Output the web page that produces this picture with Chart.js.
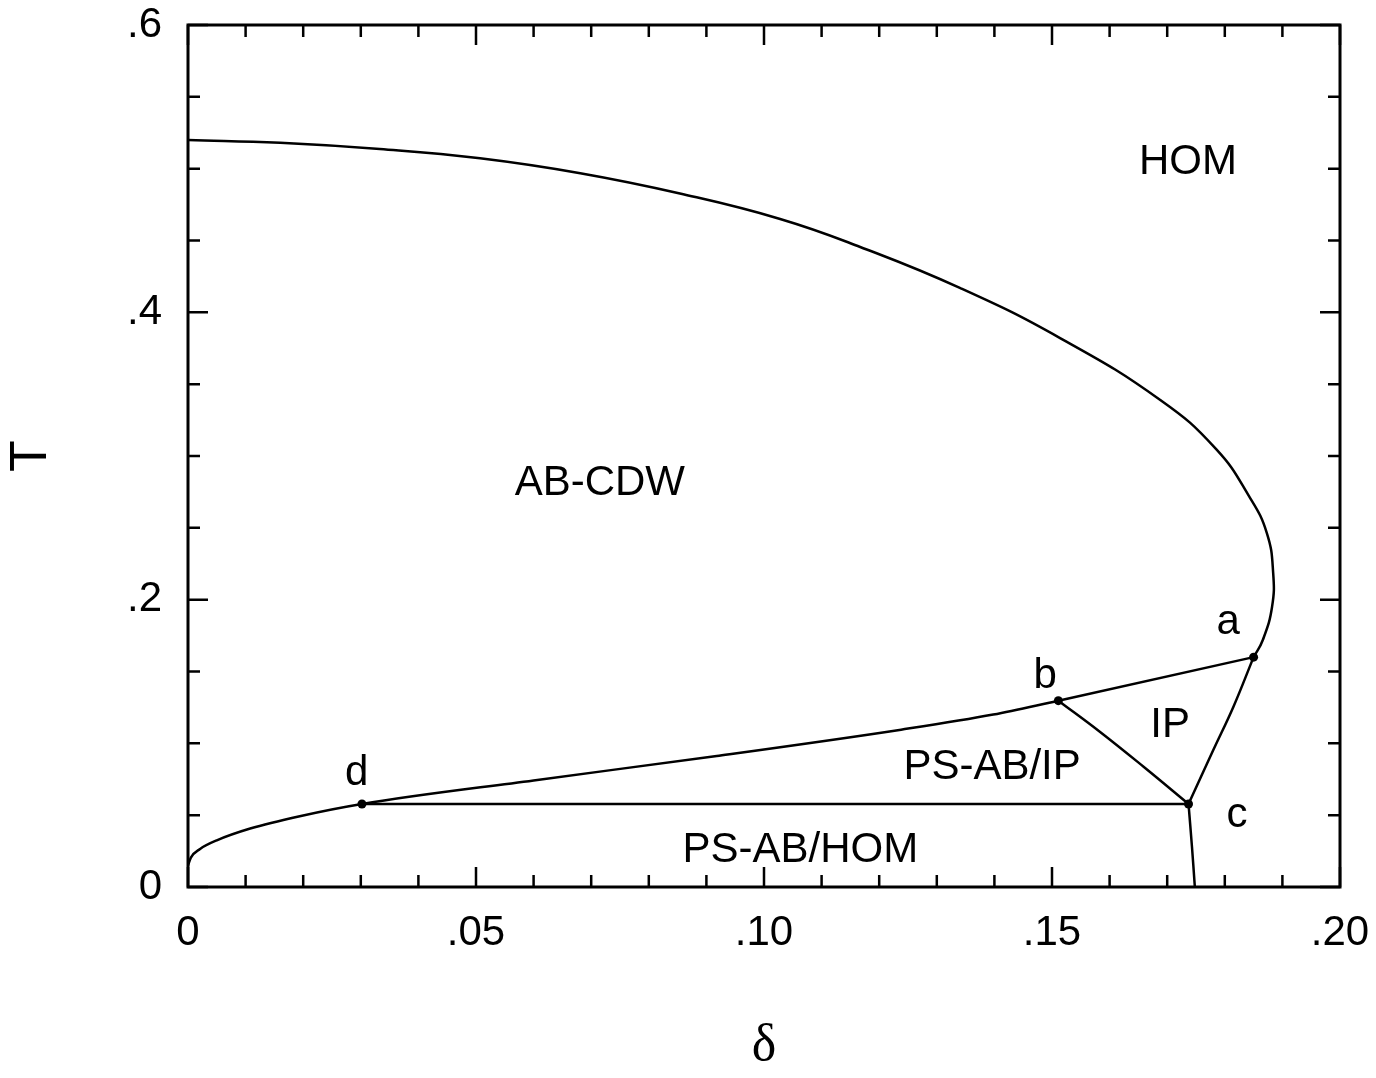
<!DOCTYPE html>
<html>
<head>
<meta charset="utf-8">
<title>Phase diagram</title>
<script src="https://cdn.jsdelivr.net/npm/chart.js@4.4.1/dist/chart.umd.min.js"></script>
<style>
  html, body { margin: 0; padding: 0; background: #fff; }
  #wrap { width: 1376px; height: 1078px; }
</style>
</head>
<body>
<div id="wrap"><canvas id="phase"></canvas></div>
<script>
// Phase boundaries, delta (doping) vs T
// upper boundary AB-CDW / HOM, from delta = 0 round the nose down to a
var outerDelta = [0, 0.0160, 0.0333, 0.0507, 0.0681, 0.0854, 0.1028, 0.1167, 0.1340, 0.1514, 0.1688, 0.1785, 0.1842, 0.1873, 0.1884, 0.1882, 0.1866, 0.185];
var outerT = [0.5200, 0.5180, 0.5137, 0.5072, 0.4968, 0.4827, 0.4650, 0.4455, 0.4170, 0.3821, 0.3390, 0.3048, 0.2721, 0.2464, 0.2185, 0.1949, 0.1719, 0.160];

var lowerDelta = [0, 0.0005, 0.0021, 0.005, 0.0108, 0.0194, 0.0302, 0.060, 0.0918, 0.1238, 0.1398, 0.1511];
var lowerT = [0.015, 0.0205, 0.0265, 0.0325, 0.0407, 0.0493, 0.0578, 0.0742, 0.0912, 0.1095, 0.1200, 0.1297];

var baDelta = [0.1511, 0.185];
var baT = [0.1297, 0.160];

var bcDelta = [0.1511, 0.1583, 0.1659, 0.1737];
var bcT = [0.1297, 0.1081, 0.0837, 0.0578];

var caDelta = [0.1737, 0.178, 0.1815, 0.185];
var caT = [0.0578, 0.0953, 0.1255, 0.160];

var dcDelta = [0.0302, 0.1737];
var dcT = [0.0578, 0.0578];

var cFootDelta = [0.1737, 0.1743, 0.1748];
var cFootT = [0.0578, 0.028, 0];

// special points a, b, c, d
var pointNames = ['a', 'b', 'c', 'd'];
var pointDelta = [0.185, 0.1511, 0.1737, 0.0302];
var pointT = [0.160, 0.1297, 0.0578, 0.0578];

// text placed in the diagram
var textNames = ['HOM', 'AB-CDW', 'IP', 'PS-AB/IP', 'PS-AB/HOM', 'a', 'b', 'c', 'd'];
var textDelta = [0.1736, 0.0715, 0.1705, 0.1396, 0.1063, 0.1806, 0.1488, 0.1821, 0.0293];
var textT = [0.504, 0.281, 0.1128, 0.0835, 0.0258, 0.1845, 0.1469, 0.0501, 0.0793];

var xTickLabels = ['0', '.05', '.10', '.15', '.20'];
var yTickLabels = ['0', '.2', '.4', '.6'];

function toPoints(xs, ys) {
  var pts = [];
  for (var i = 0; i < xs.length; i++) {
    pts.push({ x: xs[i], y: ys[i] });
  }
  return pts;
}

// mode: 'x' / 'y' = monotone spline along that axis, a number = plain tension
function lineSet(xs, ys, mode) {
  var ds = {
    type: 'line',
    data: toPoints(xs, ys),
    borderColor: '#000',
    borderWidth: 2.5,
    pointRadius: 0,
    pointHoverRadius: 0,
    tension: 0,
    fill: false
  };
  if (mode === 'x' || mode === 'y') {
    ds.cubicInterpolationMode = 'monotone';
    ds.indexAxis = mode;
  } else if (mode) {
    ds.tension = mode;
  }
  return ds;
}

var FONT = "'Liberation Sans', Arial, sans-serif";

function isMajor(v, step) {
  var r = v / step;
  return Math.abs(r - Math.round(r)) < 1e-6;
}

// ticks drawn inward on all four sides of the frame
var frameTicks = {
  id: 'frameTicks',
  afterDraw: function(chart) {
    var ctx = chart.ctx;
    var area = chart.chartArea;
    var xs = chart.scales.x;
    var ys = chart.scales.y;
    ctx.save();
    ctx.strokeStyle = '#000';
    ctx.lineWidth = 2.5;
    ctx.beginPath();
    xs.ticks.forEach(function(t) {
      var px = xs.getPixelForValue(t.value);
      var len = isMajor(t.value, 0.05) ? 20 : 12;
      ctx.moveTo(px, area.bottom);
      ctx.lineTo(px, area.bottom - len);
      ctx.moveTo(px, area.top);
      ctx.lineTo(px, area.top + len);
    });
    ys.ticks.forEach(function(t) {
      var py = ys.getPixelForValue(t.value);
      var len = isMajor(t.value, 0.2) ? 20 : 12;
      ctx.moveTo(area.left, py);
      ctx.lineTo(area.left + len, py);
      ctx.moveTo(area.right, py);
      ctx.lineTo(area.right - len, py);
    });
    ctx.stroke();
    ctx.lineWidth = 3;
    ctx.strokeRect(area.left, area.top, area.right - area.left, area.bottom - area.top);

    // region names and point letters
    ctx.fillStyle = '#000';
    ctx.font = '42px ' + FONT;
    ctx.textAlign = 'center';
    ctx.textBaseline = 'middle';
    for (var i = 0; i < textNames.length; i++) {
      ctx.fillText(textNames[i], xs.getPixelForValue(textDelta[i]), ys.getPixelForValue(textT[i]));
    }
    ctx.restore();
  }
};

var datasets = [
  lineSet(outerDelta, outerT, 0.45),
  lineSet(lowerDelta, lowerT, 'x'),
  lineSet(baDelta, baT, 0),
  lineSet(bcDelta, bcT, 0.4),
  lineSet(caDelta, caT, 0.4),
  lineSet(dcDelta, dcT, 0),
  lineSet(cFootDelta, cFootT, 0.4),
  {
    data: toPoints(pointDelta, pointT),
    showLine: false,
    pointRadius: 4.5,
    pointHoverRadius: 4.5,
    pointBackgroundColor: '#000',
    pointBorderColor: '#000',
    pointBorderWidth: 0
  }
];

var ctx = document.getElementById('phase').getContext('2d');
var phaseChart = new Chart(ctx, {
  type: 'scatter',
  data: { datasets: datasets },
  options: {
    responsive: true,
    maintainAspectRatio: false,
    animation: false,
    devicePixelRatio: 1,
    layout: { padding: { top: 25, right: 36, bottom: 0, left: 0 } },
    plugins: {
      legend: { display: false },
      tooltip: { enabled: false }
    },
    scales: {
      x: {
        type: 'linear',
        min: 0,
        max: 0.2,
        grid: { display: false, drawTicks: false },
        border: { display: false },
        ticks: {
          stepSize: 0.01,
          autoSkip: false,
          maxRotation: 0,
          padding: 21,
          color: '#000',
          font: { family: FONT, size: 42 },
          callback: function(v) {
            if (!isMajor(v, 0.05)) return '';
            return xTickLabels[Math.round(v / 0.05)];
          }
        },
        title: {
          display: true,
          text: 'δ',
          color: '#000',
          font: { family: "'Liberation Serif', 'Times New Roman', serif", size: 52 },
          padding: { top: 0, bottom: 0 }
        },
        afterFit: function(scale) {
          scale.height = 191;
          scale.paddingLeft = 0;
          scale.paddingRight = 0;
        }
      },
      y: {
        type: 'linear',
        min: 0,
        max: 0.6,
        grid: { display: false, drawTicks: false },
        border: { display: false },
        ticks: {
          stepSize: 0.05,
          autoSkip: false,
          padding: 26,
          color: '#000',
          font: { family: FONT, size: 42 },
          callback: function(v) {
            if (!isMajor(v, 0.2)) return '';
            return yTickLabels[Math.round(v / 0.2)];
          }
        },
        title: {
          display: true,
          text: 'T',
          color: '#000',
          font: { family: FONT, size: 52 },
          padding: { top: 0, bottom: 7 }
        },
        afterFit: function(scale) {
          scale.width = 188;
          scale.paddingTop = 0;
          scale.paddingBottom = 0;
        }
      }
    }
  },
  plugins: [frameTicks]
});
</script>
</body>
</html>
